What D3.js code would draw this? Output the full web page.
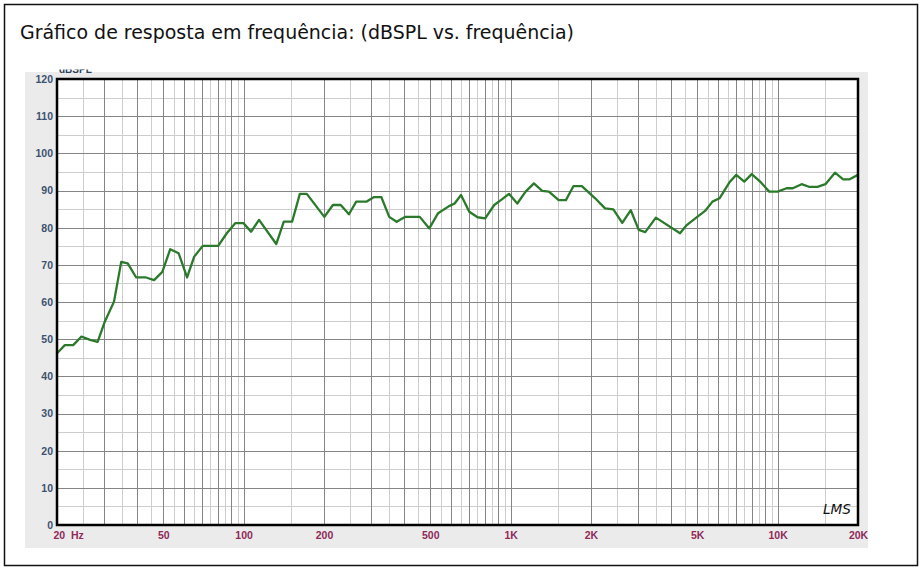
<!DOCTYPE html>
<html>
<head>
<meta charset="utf-8">
<script src="https://cdn.jsdelivr.net/npm/d3@7"></script>
<style>
  html, body { margin: 0; padding: 0; background: #ffffff; }
  svg { display: block; }
</style>
</head>
<body>
<svg id="chart" width="923" height="573"></svg>
<script>
// ---- data ----
const titleText = "Gráfico de resposta em frequência: (dBSPL vs. frequência)";
const freqHz = [20, 21.4, 23.0, 24.7, 26.6, 28.4, 30.2, 32.7, 34.8, 36.8, 39.6, 43.1, 46.2, 49.6, 53.1, 57.1, 61.4, 65.3, 70.3, 80.3, 86.5, 93.0, 100, 106.6, 114.2, 132.5, 141.4, 151.9, 162.4, 172.4, 200.6, 216, 231, 248, 264, 288, 307, 328, 351, 374, 402, 457, 496, 535, 588, 617, 652, 700, 752, 803, 868, 927, 986, 1059, 1138, 1222, 1313, 1391, 1514, 1611, 1720, 1848, 2073, 2258, 2425, 2619, 2819, 3018, 3193, 3500, 4309, 4566, 5000, 5350, 5700, 6060, 6600, 7000, 7500, 8000, 8600, 9300, 10000, 10800, 11400, 12300, 13100, 14100, 15100, 16400, 17600, 18600, 20000];
const splDb = [46.2, 48.4, 48.4, 50.7, 49.8, 49.3, 54.7, 60.1, 70.8, 70.4, 66.6, 66.6, 65.9, 68.1, 74.2, 73.1, 66.6, 72.2, 75.1, 75.1, 78.5, 81.2, 81.2, 78.9, 82.1, 75.6, 81.6, 81.6, 89.1, 89.1, 82.9, 86.1, 86.1, 83.6, 87.0, 87.0, 88.2, 88.2, 82.9, 81.6, 82.9, 82.9, 79.8, 83.9, 85.8, 86.5, 88.8, 84.3, 82.8, 82.5, 86.1, 87.6, 89.1, 86.5, 89.7, 91.9, 89.9, 89.7, 87.4, 87.4, 91.2, 91.2, 87.9, 85.2, 84.9, 81.3, 84.7, 79.4, 78.8, 82.7, 78.5, 80.7, 82.9, 84.5, 87.0, 87.9, 92.2, 94.2, 92.4, 94.4, 92.4, 89.7, 89.7, 90.6, 90.6, 91.7, 91.0, 91.0, 91.7, 94.8, 93.0, 93.0, 94.2];
const xTickValues = [20, 50, 100, 200, 500, 1000, 2000, 5000, 10000, 20000];
const xTickLabels = ["20  Hz", "50", "100", "200", "500", "1K", "2K", "5K", "10K", "20K"];
const yTickValues = [0, 10, 20, 30, 40, 50, 60, 70, 80, 90, 100, 110, 120];
const yUnitLabel = "dBSPL";
const logoText = "LMS";

// ---- layout ----
const svg = d3.select("#chart");
const plot = { left: 57, right: 858, top: 79, bottom: 525 };
const panel = { x: 25, y: 72, w: 843, h: 476 };

const x = d3.scaleLog().domain([20, 20000]).range([plot.left, plot.right]);
const y = d3.scaleLinear().domain([0, 120]).range([plot.bottom, plot.top]);

// outer frame
svg.append("rect").attr("x", 4.5).attr("y", 4.5).attr("width", 913).attr("height", 561)
  .attr("fill", "#ffffff").attr("stroke", "#111").attr("stroke-width", 1.5);

// title
svg.append("text").attr("x", 20).attr("y", 38.5)
  .attr("font-family", "'DejaVu Sans Condensed', 'DejaVu Sans', sans-serif")
  .attr("font-stretch", "condensed")
  .attr("font-size", 19.5).attr("fill", "#111")
  .attr("textLength", 554).attr("lengthAdjust", "spacingAndGlyphs")
  .text(titleText);

// gray panel
svg.append("rect").attr("x", panel.x).attr("y", panel.y).attr("width", panel.w).attr("height", panel.h)
  .attr("fill", "#ebebeb");

const defs = svg.append("defs");
defs.append("clipPath").attr("id", "unitClip").append("rect")
  .attr("x", panel.x).attr("y", 69.5).attr("width", 100).attr("height", 9);
defs.append("clipPath").attr("id", "plotClip").append("rect")
  .attr("x", plot.left).attr("y", plot.top).attr("width", plot.right - plot.left).attr("height", plot.bottom - plot.top);

// clipped unit label at the top of the panel
svg.append("text").attr("clip-path", "url(#unitClip)")
  .attr("x", 59).attr("y", 73)
  .attr("font-family", "'Liberation Sans', Arial, sans-serif").attr("font-weight", "bold")
  .attr("font-size", 10).attr("fill", "#2e3f58")
  .text(yUnitLabel);

// plot background
svg.append("rect").attr("x", plot.left).attr("y", plot.top)
  .attr("width", plot.right - plot.left).attr("height", plot.bottom - plot.top).attr("fill", "#ffffff");

// grid lines
const majorX = [], minorX = [];
[10, 100, 1000, 10000].forEach(dec => {
  for (let k = 1; k <= 9; k++) {
    const v = k * dec;
    if (v >= 20 && v <= 20000) majorX.push(v);
    const h = (k + 0.5) * dec;
    if (h > 20 && h < 20000) minorX.push(h);
  }
});
const majorY = d3.range(10, 120, 10);
const minorY = d3.range(5, 120, 10);

const grid = svg.append("g").attr("clip-path", "url(#plotClip)");
grid.selectAll(".mnx").data(minorX).join("line")
  .attr("x1", d => Math.round(x(d)) + 0.5).attr("x2", d => Math.round(x(d)) + 0.5)
  .attr("y1", plot.top).attr("y2", plot.bottom)
  .attr("stroke", "#cdcdcd").attr("stroke-width", 1);
grid.selectAll(".mny").data(minorY).join("line")
  .attr("y1", d => Math.round(y(d)) + 0.5).attr("y2", d => Math.round(y(d)) + 0.5)
  .attr("x1", plot.left).attr("x2", plot.right)
  .attr("stroke", "#cdcdcd").attr("stroke-width", 1);
grid.selectAll(".mjx").data(majorX).join("line")
  .attr("x1", d => Math.round(x(d)) + 0.5).attr("x2", d => Math.round(x(d)) + 0.5)
  .attr("y1", plot.top).attr("y2", plot.bottom)
  .attr("stroke", "#858585").attr("stroke-width", 1);
grid.selectAll(".mjy").data(majorY).join("line")
  .attr("y1", d => Math.round(y(d)) + 0.5).attr("y2", d => Math.round(y(d)) + 0.5)
  .attr("x1", plot.left).attr("x2", plot.right)
  .attr("stroke", "#858585").attr("stroke-width", 1);

// response curve
const pts = freqHz.map((f, i) => [f, splDb[i]]);
const line = d3.line().x(d => x(d[0])).y(d => y(d[1]));
svg.append("path").attr("clip-path", "url(#plotClip)")
  .attr("d", line(pts)).attr("fill", "none")
  .attr("stroke", "#2b7a2b").attr("stroke-width", 2.3).attr("stroke-linejoin", "round");

// logo
svg.append("text").attr("x", 823).attr("y", 514)
  .attr("font-family", "'DejaVu Sans', sans-serif").attr("font-style", "italic")
  .attr("font-size", 14).attr("fill", "#111")
  .attr("textLength", 28).attr("lengthAdjust", "spacingAndGlyphs")
  .text(logoText);

// plot border
svg.append("rect").attr("x", plot.left).attr("y", plot.top)
  .attr("width", plot.right - plot.left).attr("height", plot.bottom - plot.top)
  .attr("fill", "none").attr("stroke", "#000").attr("stroke-width", 2.5);

// axes (labels only)
const yAxis = d3.axisLeft(y).tickValues(yTickValues).tickSize(0).tickPadding(3).tickFormat(d3.format("d"));
const gy = svg.append("g").attr("transform", `translate(${plot.left - 1},0)`).call(yAxis);
gy.select(".domain").remove();
gy.selectAll("text").attr("font-family", "'Liberation Sans', Arial, sans-serif")
  .attr("font-weight", "bold").attr("font-size", 10.5).attr("fill", "#3c5270");

const xAxis = d3.axisBottom(x).tickValues(xTickValues).tickSize(0).tickPadding(7)
  .tickFormat((d, i) => xTickLabels[i]);
const gx = svg.append("g").attr("transform", `translate(0,${plot.bottom})`).call(xAxis);
gx.select(".domain").remove();
gx.selectAll("text").attr("font-family", "'Liberation Sans', Arial, sans-serif")
  .attr("font-weight", "bold").attr("font-size", 10.5).attr("fill", "#8e2a58")
  .style("white-space", "pre")
  .attr("text-anchor", (d, i) => i === 0 ? "start" : "middle")
  .attr("x", (d, i) => i === 0 ? -4 : 0);
</script>
</body>
</html>
